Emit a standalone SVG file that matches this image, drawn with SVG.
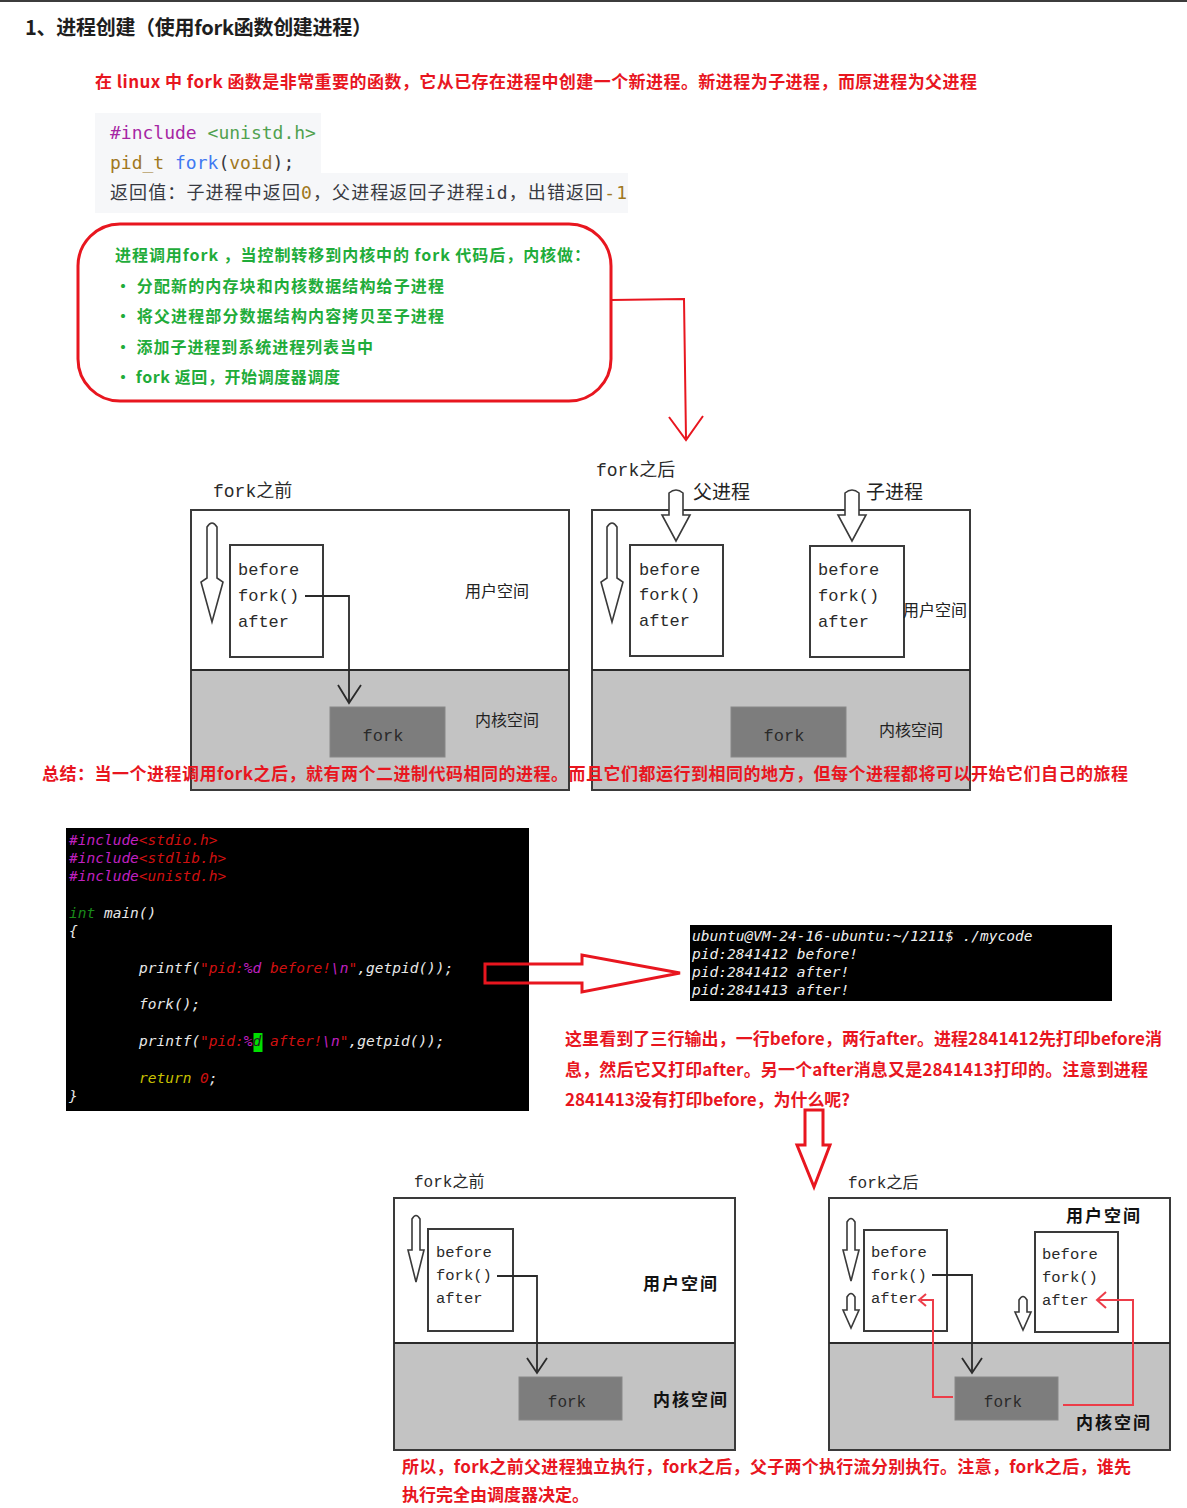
<svg xmlns="http://www.w3.org/2000/svg" width="1187" height="1508" viewBox="0 0 1187 1508">
<style>
.cjk{font-family:"Noto Sans CJK SC","Noto Sans",sans-serif}
.red{fill:#e8161f;font-weight:bold;font-size:17px}
.grn{fill:#1fac3a;font-weight:bold;font-size:16px}
.mono{font-family:"DejaVu Sans Mono","Noto Sans CJK SC",monospace}
.term{font-family:"DejaVu Sans Mono",monospace;font-style:italic;font-size:14.5px}
.hand{font-family:"Liberation Mono","Noto Sans CJK SC",monospace;fill:#2a2a2a}
.frame{fill:none;stroke:#3a3a3a;stroke-width:2}
.ibox{fill:#fff;stroke:#3a3a3a;stroke-width:2}
.kern{fill:#c3c3c3}
.fbox{fill:#7d7d7d;stroke:#888;stroke-width:1}
.harrow{fill:#fff;stroke:#3a3a3a;stroke-width:1.6}
.ln{fill:none;stroke:#2a2a2a;stroke-width:1.8}
.rl{fill:none;stroke:#e8161f;stroke-width:2}
.rl2{fill:none;stroke:#ec3d49;stroke-width:2}
.lbl{font-family:"Noto Sans CJK SC",sans-serif;fill:#222;font-size:16px}
.lbl19{font-family:"Noto Sans CJK SC",sans-serif;fill:#222;font-size:19px}
.lblb{font-family:"Noto Sans CJK SC",sans-serif;fill:#111;font-size:17px;font-weight:bold;letter-spacing:2px}
</style>
<rect x="0" y="0" width="1187" height="1508" fill="#fff"/>
<rect x="0" y="0" width="1187" height="2" fill="#3c3c3c"/>

<g id="title">
<text x="25" y="35" class="cjk" font-size="20" font-weight="bold" fill="#1e1e1e" textLength="347">1、进程创建（使用fork函数创建进程）</text>
</g>
<g id="intro">
<text x="95" y="88" class="cjk red" textLength="882">在 linux 中 fork 函数是非常重要的函数，它从已存在进程中创建一个新进程。新进程为子进程，而原进程为父进程</text>
</g>

<g id="code-snippet">
<path d="M95,113 H321 V173 H628 V213 H95 Z" fill="#f6f7f9"/>
<text x="110" y="139" class="mono" font-size="18"><tspan fill="#a626a4">#include</tspan><tspan fill="#50a14f"> &lt;unistd.h&gt;</tspan></text>
<text x="110" y="169" class="mono" font-size="18"><tspan fill="#a0781e">pid_t</tspan><tspan fill="#383a42"> </tspan><tspan fill="#4078f2">fork</tspan><tspan fill="#383a42">(</tspan><tspan fill="#a0781e">void</tspan><tspan fill="#383a42">);</tspan></text>
<text x="110" y="199" class="mono" font-size="18" fill="#383a42" textLength="517">返回值：子进程中返回<tspan fill="#a0781e">0</tspan>，父进程返回子进程id，出错返回<tspan fill="#a0781e">-1</tspan></text>
</g>

<g id="kernel-note">
<rect x="78" y="224" width="533" height="177" rx="42" ry="42" fill="none" stroke="#e8161f" stroke-width="3"/>
<text x="115" y="261" class="cjk grn" textLength="475">进程调用fork ，当控制转移到内核中的 fork 代码后，内核做：</text>
<text x="115" y="292" class="cjk grn" textLength="329">· 分配新的内存块和内核数据结构给子进程</text>
<text x="115" y="322" class="cjk grn" textLength="329">· 将父进程部分数据结构内容拷贝至子进程</text>
<text x="115" y="353" class="cjk grn" textLength="258">· 添加子进程到系统进程列表当中</text>
<text x="115" y="383" class="cjk grn" textLength="225">· fork 返回，开始调度器调度</text>
</g>

<g id="diagram-before-1">
<text x="213" y="497" class="hand" font-size="18">fork之前</text>
<rect x="191" y="670" width="378" height="120" class="kern"/>
<rect x="191" y="510" width="378" height="280" class="frame"/>
<line x1="191" y1="670" x2="569" y2="670" class="ln"/>
<path class="harrow" d="M207,527 Q212,519 217,527 L217,578 L223,582 L212,622 L201,582 L207,578 Z"/>
<rect x="230" y="545" width="93" height="112" class="ibox"/>
<text x="238" y="575" class="hand" font-size="17">before</text>
<text x="238" y="601" class="hand" font-size="17">fork()</text>
<text x="238" y="627" class="hand" font-size="17">after</text>
<polyline class="ln" points="305,596 349,596 349,701"/>
<polyline class="ln" points="338,685 349,703 361,685"/>
<rect x="330" y="707" width="115" height="50" class="fbox"/>
<text x="383" y="741" class="hand" font-size="17" text-anchor="middle">fork</text>
<text x="465" y="597" class="lbl">用户空间</text>
<text x="475" y="726" class="lbl">内核空间</text>
</g>

<g id="diagram-after-1">
<text x="596" y="476" class="hand" font-size="18">fork之后</text>
<rect x="592" y="670" width="378" height="120" class="kern"/>
<rect x="592" y="510" width="378" height="280" class="frame"/>
<line x1="592" y1="670" x2="970" y2="670" class="ln"/>
<path class="harrow" d="M607,527 Q612,519 617,527 L617,578 L623,582 L612,622 L601,582 L607,578 Z"/>
<path class="harrow" d="M669,493 Q676,487 683,493 L683,515 L690,515 L676,541 L662,515 L669,515 Z"/>
<path class="harrow" d="M845,493 Q852,487 859,493 L859,515 L866,515 L852,541 L838,515 L845,515 Z"/>
<text x="693" y="499" class="lbl19">父进程</text>
<text x="866" y="499" class="lbl19">子进程</text>
<rect x="630" y="545" width="93" height="111" class="ibox"/>
<text x="639" y="575" class="hand" font-size="17">before</text>
<text x="639" y="600" class="hand" font-size="17">fork()</text>
<text x="639" y="626" class="hand" font-size="17">after</text>
<rect x="810" y="546" width="94" height="111" class="ibox"/>
<text x="818" y="575" class="hand" font-size="17">before</text>
<text x="818" y="601" class="hand" font-size="17">fork()</text>
<text x="818" y="627" class="hand" font-size="17">after</text>
<rect x="731" y="707" width="115" height="50" class="fbox"/>
<text x="784" y="741" class="hand" font-size="17" text-anchor="middle">fork</text>
<text x="903" y="616" class="lbl">用户空间</text>
<text x="879" y="736" class="lbl">内核空间</text>
</g>

<g id="summary">
<text x="42" y="780" class="cjk red" textLength="1086">总结：当一个进程调用fork之后，就有两个二进制代码相同的进程。而且它们都运行到相同的地方，但每个进程都将可以开始它们自己的旅程</text>
</g>

<g id="source-code">
<rect x="66" y="828" width="463" height="283" fill="#000"/>
<text x="69" y="845" class="term"><tspan fill="#c020c0">#include</tspan><tspan fill="#d01010">&lt;stdio.h&gt;</tspan></text>
<text x="69" y="863" class="term"><tspan fill="#c020c0">#include</tspan><tspan fill="#d01010">&lt;stdlib.h&gt;</tspan></text>
<text x="69" y="881" class="term"><tspan fill="#c020c0">#include</tspan><tspan fill="#d01010">&lt;unistd.h&gt;</tspan></text>
<text x="69" y="918" class="term"><tspan fill="#1a8a1a">int</tspan><tspan fill="#e8e8e8"> main()</tspan></text>
<text x="69" y="936" class="term" fill="#e8e8e8">{</text>
<text x="139" y="973" class="term"><tspan fill="#e8e8e8">printf(</tspan><tspan fill="#d01010">"pid:</tspan><tspan fill="#c020c0">%d</tspan><tspan fill="#d01010"> before!</tspan><tspan fill="#c020c0">\n</tspan><tspan fill="#d01010">"</tspan><tspan fill="#e8e8e8">,getpid());</tspan></text>
<text x="139" y="1009" class="term" fill="#e8e8e8">fork();</text>
<rect x="253.5" y="1033" width="9" height="19" fill="#00e000"/>
<text x="139" y="1046" class="term"><tspan fill="#e8e8e8">printf(</tspan><tspan fill="#d01010">"pid:</tspan><tspan fill="#c020c0">%</tspan><tspan fill="#202020">d</tspan><tspan fill="#d01010"> after!</tspan><tspan fill="#c020c0">\n</tspan><tspan fill="#d01010">"</tspan><tspan fill="#e8e8e8">,getpid());</tspan></text>
<text x="139" y="1083" class="term"><tspan fill="#c8c000">return</tspan><tspan fill="#d01010"> 0</tspan><tspan fill="#e8e8e8">;</tspan></text>
<text x="69" y="1101" class="term" fill="#e8e8e8">}</text>
</g>

<g id="terminal">
<rect x="690" y="925" width="422" height="76" fill="#000"/>
<text x="692" y="941" class="term" fill="#f0f0f0">ubuntu@VM-24-16-ubuntu:~/1211$ ./mycode</text>
<text x="692" y="959" class="term" fill="#f0f0f0">pid:2841412 before!</text>
<text x="692" y="977" class="term" fill="#f0f0f0">pid:2841412 after!</text>
<text x="692" y="995" class="term" fill="#f0f0f0">pid:2841413 after!</text>
</g>

<g id="explanation">
<text x="565" y="1045" class="cjk red" textLength="597">这里看到了三行输出，一行before，两行after。进程2841412先打印before消</text>
<text x="565" y="1076" class="cjk red" textLength="583">息，然后它又打印after。另一个after消息又是2841413打印的。注意到进程</text>
<text x="565" y="1106" class="cjk red" textLength="285">2841413没有打印before，为什么呢?</text>
</g>

<g id="diagram-before-2">
<text x="414" y="1187" class="hand" font-size="16">fork之前</text>
<rect x="394" y="1343" width="341" height="107" class="kern"/>
<rect x="394" y="1198" width="341" height="252" class="frame"/>
<line x1="394" y1="1343" x2="735" y2="1343" class="ln"/>
<path class="harrow" d="M412,1219 Q416,1212 420,1219 L420,1250 L424,1250 L416,1282 L408,1250 L412,1250 Z"/>
<rect x="428" y="1229" width="85" height="102" class="ibox"/>
<text x="436" y="1257" class="hand" font-size="15.5">before</text>
<text x="436" y="1280" class="hand" font-size="15.5">fork()</text>
<text x="436" y="1303" class="hand" font-size="15.5">after</text>
<polyline class="ln" points="497,1276 537,1276 537,1371"/>
<polyline class="ln" points="527,1358 537,1373 547,1358"/>
<rect x="519" y="1377" width="103" height="43" class="fbox"/>
<text x="567" y="1407" class="hand" font-size="16" text-anchor="middle">fork</text>
<text x="643" y="1290" class="lblb">用户空间</text>
<text x="653" y="1406" class="lblb">内核空间</text>
</g>

<g id="diagram-after-2">
<text x="848" y="1188" class="hand" font-size="16">fork之后</text>
<rect x="829" y="1343" width="341" height="107" class="kern"/>
<rect x="829" y="1198" width="341" height="252" class="frame"/>
<line x1="829" y1="1343" x2="1170" y2="1343" class="ln"/>
<path class="harrow" d="M847,1222 Q851,1215 855,1222 L855,1250 L859,1250 L851,1281 L843,1250 L847,1250 Z"/>
<path class="harrow" d="M847,1297 Q851,1290 855,1297 L855,1310 L859,1310 L851,1328 L843,1310 L847,1310 Z"/>
<path class="harrow" d="M1019,1300 Q1023,1293 1027,1300 L1027,1312 L1031,1312 L1023,1330 L1015,1312 L1019,1312 Z"/>
<rect x="864" y="1230" width="83" height="101" class="ibox"/>
<text x="871" y="1257" class="hand" font-size="15.5">before</text>
<text x="871" y="1280" class="hand" font-size="15.5">fork()</text>
<text x="871" y="1303" class="hand" font-size="15.5">after</text>
<rect x="1035" y="1232" width="83" height="100" class="ibox"/>
<text x="1042" y="1259" class="hand" font-size="15.5">before</text>
<text x="1042" y="1282" class="hand" font-size="15.5">fork()</text>
<text x="1042" y="1305" class="hand" font-size="15.5">after</text>
<polyline class="ln" points="932,1275 972,1275 972,1371"/>
<polyline class="ln" points="962,1358 972,1373 982,1358"/>
<rect x="955" y="1377" width="103" height="43" class="fbox"/>
<text x="1003" y="1407" class="hand" font-size="16" text-anchor="middle">fork</text>
<polyline class="rl2" points="953,1397 933,1397 933,1300 921,1300"/>
<polyline class="rl2" points="926,1294 919,1300 926,1306"/>
<polyline class="rl2" points="1063,1405 1133,1405 1133,1300 1098,1300"/>
<polyline class="rl2" points="1106,1292 1097,1300 1106,1308"/>
<text x="1066" y="1222" class="lblb">用户空间</text>
<text x="1076" y="1429" class="lblb">内核空间</text>
</g>

<g id="conclusion">
<text x="402" y="1473" class="cjk red" textLength="729">所以，fork之前父进程独立执行，fork之后，父子两个执行流分别执行。注意，fork之后，谁先</text>
<text x="402" y="1501" class="cjk red">执行完全由调度器决定。</text>
</g>

<g id="connectors">
<polyline class="rl" points="611,300 684,299 686,438"/>
<polyline class="rl" points="669,417 686,440 703,416"/>
<path d="M485,964 L582,964 L582,955 L680,973 L582,992 L582,983 L485,983 Z" fill="none" stroke="#e8161f" stroke-width="3"/>
<path d="M805,1110 L823,1110 L823,1145 L830,1145 L814,1187 L797,1145 L805,1145 Z" fill="#fff" stroke="#e8161f" stroke-width="3"/>
</g>
</svg>
